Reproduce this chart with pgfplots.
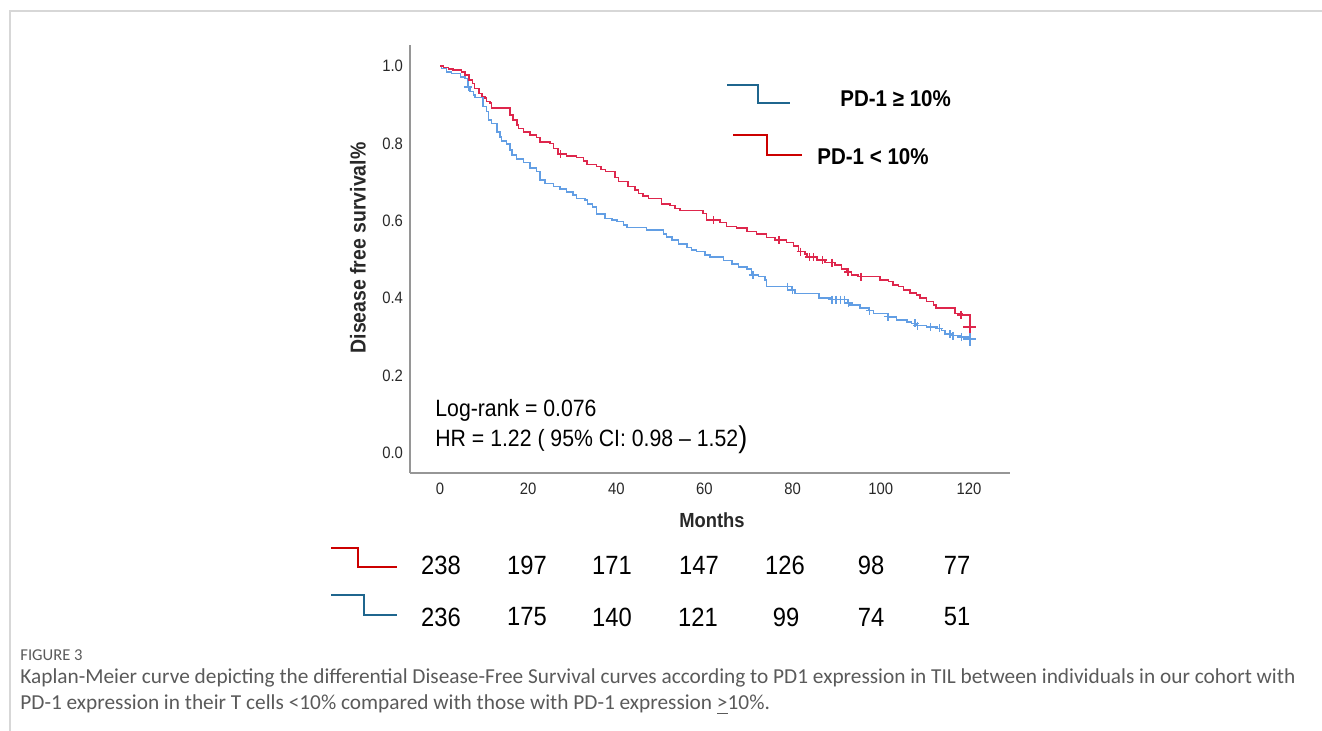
\documentclass[border=0pt]{standalone}
\usepackage{fontspec}
\setmainfont{Liberation Sans}[FakeStretch=0.9]
\newfontfamily\capfont{Carlito}
\usepackage{graphicx}
\usepackage{pgfplots}
\pgfplotsset{compat=1.18}
\definecolor{redc}{RGB}{222,38,76}
\definecolor{bluec}{RGB}{98,158,228}
\definecolor{redleg}{RGB}{204,0,0}
\definecolor{blueleg}{RGB}{31,102,142}
\definecolor{axisgray}{RGB}{150,150,150}
\definecolor{tickgray}{RGB}{40,40,40}
\definecolor{capgray}{RGB}{90,90,90}
\definecolor{framegray}{RGB}{215,215,215}
\newsavebox\capA
\newdimen\capW
\begin{document}
\sbox\capA{\color{capgray}\capfont\fontsize{9}{11}\selectfont Kaplan-Meier curve depicting the differential Disease-Free Survival curves according to PD1 expression in TIL between individuals in our cohort with}%
\capW=\wd\capA
\pgfmathsetmacro\capscale{637.5/\capW}%
\begin{tikzpicture}
\path[use as bounding box] (0,0) rectangle (661pt,365.5pt);
\draw[framegray, line width=0.6pt] (5pt,0) -- (5pt,360pt) -- (661pt,360pt);
\begin{axis}[
  at={(205pt,129pt)}, anchor=south west,
  scale only axis, width=300pt, height=214pt,
  xmin=-6.806, xmax=129.31, ymin=-0.0517, ymax=1.0543,
  axis x line=bottom, axis y line=left,
  axis line style={-, draw=axisgray, line width=0.7pt},
  xtick={0,20,40,60,80,100,120}, ytick={0,0.2,0.4,0.6,0.8,1},
  yticklabel style={/pgf/number format/fixed, /pgf/number format/fixed zerofill, /pgf/number format/precision=1},
  /pgf/number format/assume math mode=true,
  major tick length=0pt,
  tick label style={font=\fontsize{8.25}{9}\selectfont, text=tickgray},
  xticklabel style={yshift=-1.5pt},
  clip=false,
]
\addplot[const plot, bluec, line width=0.75pt] coordinates {
(0,1.000)(0.3,0.994)(1.5,0.984)(2.6,0.981)(4.7,0.972)(5.7,0.968)(6.2,0.964)(6.4,0.946)(6.8,0.934)(7.6,0.925)(7.9,0.918)(9.8,0.895)(10.6,0.882)(11,0.860)(11.7,0.852)(12.9,0.830)(13.6,0.817)(14,0.806)(15.1,0.798)(15.9,0.783)(16.3,0.770)(17.4,0.760)(18.9,0.751)(20.4,0.737)(21.9,0.727)(22.7,0.705)(23.8,0.697)(25.7,0.688)(27.2,0.682)(28.7,0.675)(30.2,0.667)(31,0.658)(32.9,0.654)(33.5,0.644)(34.6,0.636)(35.5,0.617)(37.4,0.606)(39,0.602)(40.1,0.598)(41.6,0.589)(42.4,0.583)(46.9,0.576)(50.7,0.566)(51.4,0.558)(52.6,0.550)(54.1,0.540)(56,0.531)(57.1,0.525)(58.2,0.520)(60.1,0.512)(61.3,0.506)(64.3,0.497)(66.2,0.488)(67.7,0.481)(69.6,0.475)(70.7,0.460)(72.2,0.456)(73.7,0.447)(74.1,0.430)(79.9,0.421)(80.5,0.412)(86,0.400)(88.5,0.396)(92.5,0.388)(93,0.382)(95.3,0.374)(97.2,0.368)(98.3,0.361)(101.8,0.352)(103.6,0.344)(105.9,0.339)(107,0.335)(108.1,0.329)(110.4,0.326)(112.7,0.322)(113.8,0.316)(114.6,0.307)(116.1,0.303)(118,0.300)(120.2,0.296)};
\addplot[only marks, mark=+, mark size=2pt, bluec, line width=0.7pt] coordinates {
(6.4,0.946)(71,0.460)(78.8,0.430)(79.9,0.421)(88.9,0.396)(89.8,0.396)(90.8,0.396)(91.7,0.396)(92.7,0.388)(97.5,0.368)(101.6,0.352)(107.8,0.335)(108.3,0.329)(111.3,0.326)(113.3,0.322)(115.7,0.307)(116.4,0.303)(118.3,0.300)};
\addplot[only marks, mark=+, mark size=3.2pt, bluec, line width=1.1pt] coordinates {(120.2,0.294)};
\addplot[const plot, redc, line width=0.75pt] coordinates {
(0,1.000)(0.75,0.996)(1.9,0.992)(3,0.990)(4.9,0.984)(5.7,0.977)(6.6,0.964)(7.4,0.955)(7.8,0.942)(8.9,0.929)(9.5,0.921)(10.2,0.917)(10.6,0.908)(11.3,0.904)(11.7,0.892)(15.9,0.873)(16.6,0.860)(17.5,0.848)(17.8,0.839)(18.9,0.830)(20.4,0.822)(21.9,0.815)(22.7,0.804)(25,0.800)(25.7,0.787)(26.8,0.772)(28.7,0.768)(31,0.763)(32.5,0.755)(33.3,0.746)(35.5,0.740)(36.5,0.733)(37.6,0.727)(39.7,0.712)(40.5,0.701)(42.7,0.688)(44.2,0.680)(45,0.671)(46.1,0.664)(47.3,0.658)(50.3,0.643)(52.2,0.639)(53.3,0.632)(54.4,0.626)(59.7,0.619)(60.5,0.602)(63.5,0.595)(65,0.585)(67.3,0.581)(69.6,0.572)(71.8,0.566)(74.1,0.557)(76,0.550)(78.6,0.544)(80.2,0.535)(81.3,0.520)(82.8,0.514)(83.2,0.506)(85.5,0.499)(87.3,0.492)(89.6,0.486)(91.1,0.475)(92.3,0.468)(93.4,0.460)(94.9,0.456)(99.8,0.447)(101.7,0.443)(102.8,0.434)(104,0.430)(105.1,0.421)(106.6,0.413)(108.1,0.408)(108.9,0.400)(110.4,0.391)(111.9,0.382)(112.5,0.374)(116.8,0.361)(118.4,0.357)(120.2,0.326)};
\addplot[only marks, mark=+, mark size=2pt, redc, line width=0.7pt] coordinates {
(27.4,0.772)(62,0.602)(76.9,0.550)(81.8,0.520)(83.8,0.506)(84.7,0.506)(86.8,0.499)(88.9,0.492)(92.6,0.468)(95.5,0.456)(118.2,0.357)};
\addplot[only marks, mark=+, mark size=3.2pt, redc, line width=1.1pt] coordinates {(120.2,0.326)};
\end{axis}
% axis labels
\node[rotate=90, font=\bfseries\fontsize{10.8}{12}\selectfont, text=tickgray] at (179pt,241.5pt) {Disease free survival\%};
\node[font=\bfseries\fontsize{10.2}{12}\selectfont, text=tickgray] at (356pt,105.5pt) {Months};
% stats
\node[anchor=west, inner sep=0, font=\fontsize{11.8}{14}\selectfont] at (217.5pt,160.5pt) {Log-rank = 0.076};
\node[anchor=west, inner sep=0, font=\fontsize{11.8}{14}\selectfont] at (217.5pt,145.5pt) {HR = 1.22 ( 95\% CI: 0.98 -- 1.52{\fontsize{15}{15}\selectfont\raisebox{-0.6pt}{)}}};
% legend
\draw[blueleg, line width=1.3pt] (363.5pt,323pt) -- (379pt,323pt) -- (379pt,314pt) -- (395pt,314pt);
\node[anchor=west, inner sep=0, font=\bfseries\fontsize{11.4}{13}\selectfont] at (420pt,316pt) {PD-1 ≥ 10\%};
\draw[redleg, line width=1.1pt] (366.5pt,298pt) -- (383.5pt,298pt) -- (383.5pt,288pt) -- (401pt,288pt);
\node[anchor=west, inner sep=0, font=\bfseries\fontsize{11.4}{13}\selectfont] at (408.5pt,287pt) {PD-1 < 10\%};
% numbers at risk
\draw[redleg, line width=1.3pt] (165.5pt,91.5pt) -- (179pt,91.5pt) -- (179pt,82pt) -- (198.5pt,82pt);
\draw[blueleg, line width=1.3pt] (165.5pt,68pt) -- (182pt,68pt) -- (182pt,58pt) -- (198.5pt,58pt);
\foreach \xx/\nn in {220.5/238,263.5/197,306/171,349.5/147,392.5/126,435.5/98,478.5/77}
  \node[font=\fontsize{13.2}{15}\selectfont, inner sep=0] at (\xx pt,83pt) {\nn};
\foreach \xx/\nn in {220.5/236,263.5/175,306/140,349/121,393/99,435.5/74,478.5/51}
  \node[font=\fontsize{13.2}{15}\selectfont, inner sep=0] at (\xx pt,57pt) {\nn};
% caption
\node[anchor=base west, inner sep=0, text=capgray] at (10pt,35pt) {\scalebox{\capscale}{\capfont\fontsize{7}{8}\selectfont FIGURE 3}};
\node[anchor=base west, inner sep=0] at (10pt,23.5pt) {\scalebox{\capscale}{\usebox\capA}};
\node[anchor=base west, inner sep=0, text=capgray] at (10pt,10.5pt) {\scalebox{\capscale}{\capfont\fontsize{9}{11}\selectfont PD-1 expression in their T cells <10\% compared with those with PD-1 expression \underline{>}10\%.}};
\end{tikzpicture}
\end{document}
